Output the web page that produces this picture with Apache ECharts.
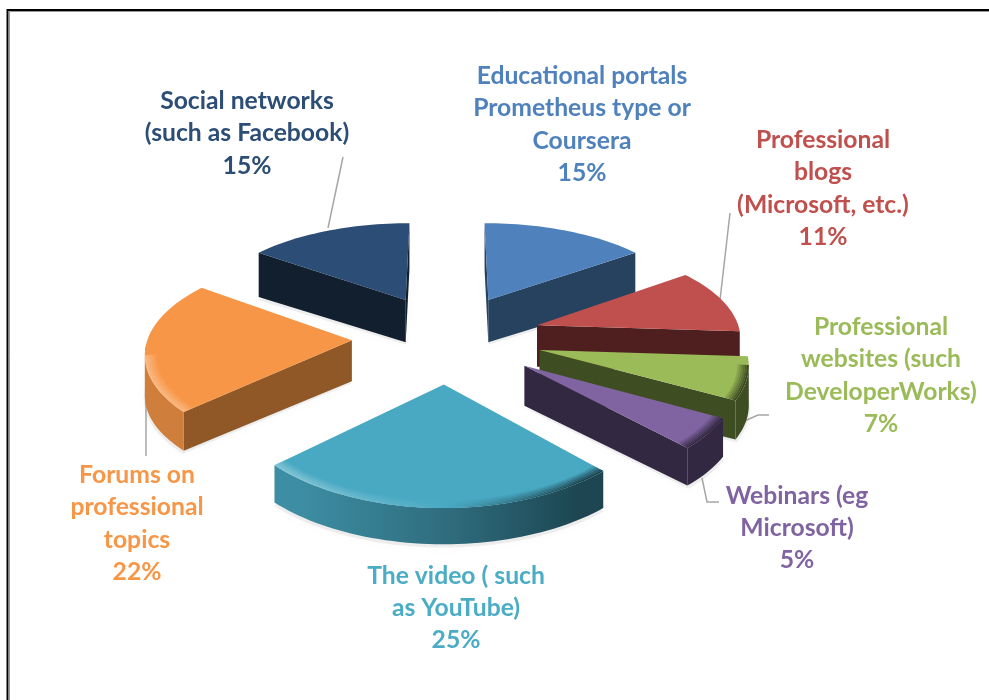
<!DOCTYPE html>
<html>
<head>
<meta charset="utf-8">
<style>html,body{margin:0;padding:0;background:#fff}#chart{width:989px;height:700px}</style>
<script src="https://cdn.jsdelivr.net/npm/echarts@6/dist/echarts.min.js"></script>
</head>
<body>
<div id="chart"></div>
<script>
// Share of each learning resource, clockwise from twelve o'clock
const categories = [
  'Educational portals\nPrometheus type or\nCoursera',
  'Professional\nblogs\n(Microsoft, etc.)',
  'Professional\nwebsites (such\nDeveloperWorks)',
  'Webinars (eg\nMicrosoft)',
  'The video ( such\nas YouTube)',
  'Forums on\nprofessional\ntopics',
  'Social networks\n(such as Facebook)'
];
const shares = [15, 11, 7, 5, 25, 22, 15];

const faceColors = ['#4f81bd', '#c0504d', '#9bbb59', '#8064a2', '#49a9c3', '#f79646', '#2c4d75'];
const wallColors = ['#27425f', '#4e1f1e', '#3f4e22', '#332842', '#2f6d7e', '#8f5826', '#111f2e'];
const wallShadeColors = ['#27425f', '#4e1f1e', '#3f4e22', '#332842', '#1d4652', '#8f5826', '#111f2e'];
const labelColors = ['#4f81bd', '#c0504d', '#9bbb59', '#8064a2', '#4bacc6', '#f79646', '#2c4d75'];
const labelCenters = [[582, 124.5], [823, 188.5], [881, 375.5], [797, 528], [456, 608], [137, 523.5], [247, 133.5]];
const leaderPaths = [
  [[730, 213], [720, 300]],
  [[769, 415], [758, 415], [740, 423]],
  [[719, 502], [707, 502], [702, 478]],
  [[146, 347], [146, 456]],
  [[343, 157], [328, 228]]
];

// Tilted, perspective pie: plane coordinates in pixels, y growing towards the viewer
const PIE = { cx: 447, cy: 337.5, radius: 204, tilt: 0.466, perspX: 0.105, perspY: 0.125, explode: 95, depth: 41 };
const total = shares.reduce((a, b) => a + b, 0);

function project(x, y, drop) {
  const t = y / PIE.radius;
  const sx = 1 / (1 - PIE.perspX * t);
  const sy = 1 / (1 - PIE.perspY * t);
  return [PIE.cx + x * sx, PIE.cy + PIE.tilt * y * sy + (drop || 0) * (1 - 0.08 * t)];
}
function planePoint(a, r, ox, oy) {
  return [ox + r * Math.sin(a), oy - r * Math.cos(a)];
}
function mix(hex, target, k) {
  const n = parseInt(hex.slice(1), 16);
  const c = [n >> 16, (n >> 8) & 255, n & 255].map(v => Math.round(v + (target - v) * k));
  return 'rgb(' + c.join(',') + ')';
}
function sideGradient(lo, base, hi) {
  return {
    type: 'linear', global: true, x: 148, y: 0, x2: 745, y2: 0,
    colorStops: [
      { offset: 0, color: lo },
      { offset: 0.25, color: lo },
      { offset: 0.5, color: base },
      { offset: 0.72, color: hi },
      { offset: 1, color: hi }
    ]
  };
}

function renderSlice(params, api) {
  const i = params.dataIndex;
  const before = shares.slice(0, i).reduce((a, b) => a + b, 0);
  const a0 = before / total * Math.PI * 2;
  const a1 = (before + api.value(0)) / total * Math.PI * 2;
  const mid = (a0 + a1) / 2;
  const ox = PIE.explode * Math.sin(mid);
  const oy = -PIE.explode * Math.cos(mid);
  const steps = Math.max(6, Math.round((a1 - a0) / 0.03));
  const arcAt = (r, drop) => {
    const out = [];
    for (let k = 0; k <= steps; k++) {
      const p = planePoint(a0 + (a1 - a0) * k / steps, r, ox, oy);
      out.push(project(p[0], p[1], drop));
    }
    return out;
  };
  const apex = project(ox, oy, 0);
  const apexLow = project(ox, oy, PIE.depth);
  const rim = arcAt(PIE.radius, 0);
  const rimLow = arcAt(PIE.radius, PIE.depth);
  const z = 100 + Math.round(-Math.cos(mid) * 50);
  const kids = [];

  // soft ground shadow beneath the slice
  kids.push({
    type: 'polygon', z2: 1,
    shape: { points: [project(ox, oy, PIE.depth + 2)].concat(arcAt(PIE.radius * 1.005, PIE.depth + 3)) },
    style: { fill: 'rgba(150,150,150,0.14)', shadowBlur: 10, shadowColor: 'rgba(130,130,130,0.3)' }
  });

  const wall = wallColors[i];
  // straight cut walls, only those turned towards the viewer
  if (rim[0][0] < apex[0]) {
    kids.push({ type: 'polygon', z2: z, shape: { points: [apex, rim[0], rimLow[0], apexLow] }, style: { fill: wall } });
  }
  if (apex[0] < rim[steps][0]) {
    kids.push({ type: 'polygon', z2: z, shape: { points: [rim[steps], apex, apexLow, rimLow[steps]] }, style: { fill: wall } });
  }
  // index range of the rim that faces the viewer
  let first = -1, last = -1;
  for (let k = 0; k < steps; k++) {
    if (rim[k + 1][0] < rim[k][0]) {
      if (first < 0) first = k;
      last = k + 1;
    }
  }
  const band = (outer, inner) =>
    outer.slice(first, last + 1).concat(inner.slice(first, last + 1).reverse());

  // curved outer wall, shaded from left to right
  if (first >= 0) {
    kids.push({
      type: 'polygon', z2: z,
      shape: { points: band(rim, rimLow) },
      style: { fill: sideGradient(mix(faceColors[i], 0, 0.16), wall, wallShadeColors[i]) }
    });
  }
  // flat top face
  kids.push({
    type: 'polygon', z2: z + 1,
    shape: { points: [apex].concat(rim) },
    style: { fill: faceColors[i] }
  });
  // bevel along the visible part of the rim
  if (first >= 0) {
    const bands = 6;
    const bevelFill = sideGradient(mix(faceColors[i], 255, 0.34), faceColors[i], mix(faceColors[i], 0, 0.62));
    for (let b = 0; b < bands; b++) {
      kids.push({
        type: 'polygon', z2: z + 2,
        shape: {
          points: band(arcAt(PIE.radius * (1 - 0.009 * b), 0), arcAt(PIE.radius * (1 - 0.009 * (b + 1)), 0))
        },
        style: { fill: bevelFill, opacity: 1 - b / bands }
      });
    }
  }
  // category name and percentage
  kids.push({
    type: 'text', z2: 300,
    style: {
      text: categories[i] + '\n' + api.value(0) + '%',
      x: labelCenters[i][0], y: labelCenters[i][1],
      align: 'center', verticalAlign: 'middle',
      fontFamily: 'Lato', fontWeight: 'bold', fontSize: 24.7, lineHeight: 32.4,
      fill: labelColors[i]
    }
  });
  return { type: 'group', children: kids };
}

const chart = echarts.init(document.getElementById('chart'), null, { renderer: 'canvas' });
chart.setOption({
  animation: false,
  backgroundColor: '#ffffff',
  graphic: [
    { type: 'polyline', z: 0, shape: { points: [[7.5, 700], [7.5, 10], [989, 10]] }, style: { stroke: '#000', lineWidth: 2, fill: null } },
    { type: 'polyline', z: 0, shape: { points: [[9.5, 700], [9.5, 11.5], [989, 11.5]] }, style: { stroke: '#999', lineWidth: 1, fill: null } }
  ].concat(leaderPaths.map(p => ({
    type: 'polyline', z: 1, shape: { points: p }, style: { stroke: '#a6a6a6', lineWidth: 1.5, fill: null }
  }))),
  series: [{
    type: 'custom',
    coordinateSystem: 'none',
    renderItem: renderSlice,
    data: shares.map(v => [v]),
    z: 2
  }]
});
</script>
</body>
</html>
